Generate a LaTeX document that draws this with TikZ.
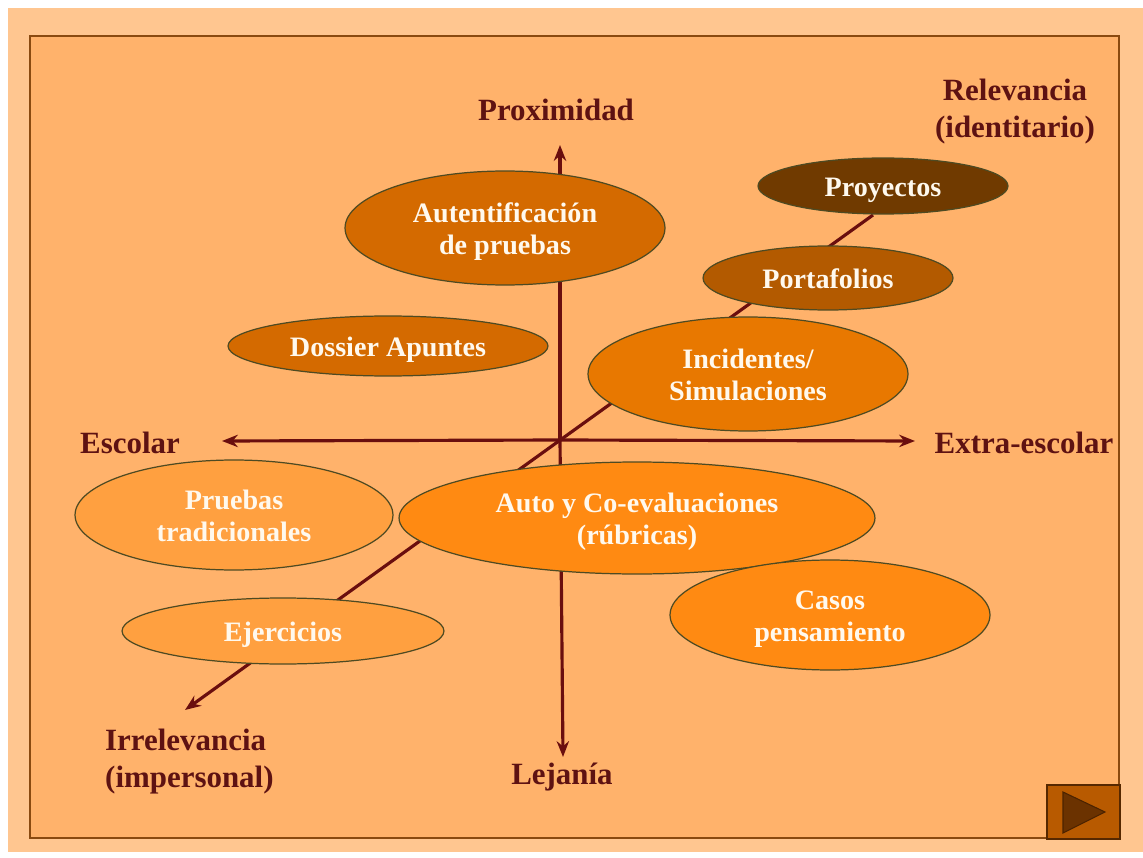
\documentclass[tikz,border=0pt]{standalone}
\usepackage{fontspec}
\setmainfont{Liberation Serif}
\usetikzlibrary{shapes.geometric,arrows.meta}
\definecolor{outerbg}{HTML}{FFC690}
\definecolor{innerbg}{HTML}{FFB26B}
\definecolor{frameline}{HTML}{8A4A10}
\definecolor{axiscol}{HTML}{6A0E0E}
\definecolor{labcol}{HTML}{5E1212}
\definecolor{elline}{HTML}{4E4A22}
\definecolor{txtcol}{HTML}{FFF9EE}
\definecolor{cAut}{HTML}{D46A00}
\definecolor{cProy}{HTML}{703A00}
\definecolor{cPort}{HTML}{B35A00}
\definecolor{cInc}{HTML}{E87800}
\definecolor{cLight}{HTML}{FFA040}
\definecolor{cAuto}{HTML}{FF8A12}
\definecolor{cBtn}{HTML}{B85A00}
\definecolor{cTri}{HTML}{6B3200}
\newcommand{\btxt}[1]{\raisebox{-2.2pt}[\height][\depth]{\begin{tabular}{@{}c@{}}#1\end{tabular}}}
\tikzset{
  bubble/.style={ellipse, draw=elline, line width=0.7pt, inner sep=0pt, align=center,
    text=txtcol, font=\fontsize{16}{18.7}\selectfont\bfseries},
  axislab/.style={text=labcol, align=center, font=\fontsize{17.6}{21}\selectfont\bfseries},
  axisline/.style={draw=axiscol, line width=1.8pt, -{Stealth[length=9pt,width=7pt]}},
}
\begin{document}
\begin{tikzpicture}[x=0.02cm,y=-0.02cm]
\useasboundingbox (0,0) rectangle (1143,858);
\fill[white] (0,0) rectangle (1143,858);
\fill[outerbg] (8,8) rectangle (1143,852);
\draw[fill=innerbg, draw=frameline, line width=1pt] (30,36) rectangle (1119,838);
% axis coordinates
\coordinate (origin) at (560,440);
\coordinate (top) at (560,145);
\coordinate (bottom) at (563,757);
\coordinate (left) at (222,441);
\coordinate (right) at (915,441);
\coordinate (diagLow) at (185,710);
\coordinate (diagHigh) at (873,215);
\draw[axisline] (origin) -- (top);
\draw[axisline] (origin) -- (bottom);
\draw[axisline] (origin) -- (left);
\draw[axisline] (origin) -- (right);
\draw[axisline] (diagHigh) -- (diagLow);
% axis labels
\node[axislab] (prox) at (556,110) {Proximidad};
\node[axislab] (rel) at (1015,112) {Relevancia\\(identitario)};
\node[axislab] (esc) at (130,443) {Escolar};
\node[axislab] (extra) at (1024,443) {Extra-escolar};
\node[axislab, align=left, anchor=west] (irr) at (99,762) {Irrelevancia\\(impersonal)};
\node[axislab] (lej) at (562,777) {Lejan\'ia};
% ellipses
\node[bubble, fill=cAut, minimum width=6.4cm, minimum height=2.28cm] (aut) at (505,228) {\btxt{Autentificaci\'on\\de pruebas}};
\node[bubble, fill=cProy, minimum width=5.0cm, minimum height=1.12cm] (proy) at (883,186) {\btxt{Proyectos}};
\node[bubble, fill=cPort, minimum width=5.0cm, minimum height=1.28cm] (port) at (828,278) {\btxt{Portafolios}};
\node[bubble, fill=cAut, minimum width=6.4cm, minimum height=1.2cm] (dos) at (388,346) {\btxt{Dossier Apuntes}};
\node[bubble, fill=cInc, minimum width=6.4cm, minimum height=2.28cm] (inc) at (748,374) {\btxt{Incidentes/\\Simulaciones}};
\node[bubble, fill=cLight, minimum width=6.36cm, minimum height=2.2cm] (prue) at (234,515) {\btxt{Pruebas\\tradicionales}};
\node[bubble, fill=cAuto, minimum width=9.52cm, minimum height=2.24cm] (auto) at (637,518) {\btxt{Auto y Co-evaluaciones\\(r\'ubricas)}};
\node[bubble, fill=cAuto, minimum width=6.4cm, minimum height=2.2cm] (casos) at (830,615) {\btxt{Casos\\pensamiento}};
\node[bubble, fill=cLight, minimum width=6.44cm, minimum height=1.32cm] (ejer) at (283,631) {\btxt{Ejercicios}};
% next button
\draw[fill=cBtn, draw=cTri!80!black, line width=0.8pt] (1047,785) rectangle (1120,839);
\coordinate (t1) at (1063,792);
\coordinate (t2) at (1063,833);
\coordinate (t3) at (1105,812);
\draw[fill=cTri, draw=cTri!70!black, line width=0.6pt] (t1) -- (t2) -- (t3) -- cycle;
\end{tikzpicture}
\end{document}
